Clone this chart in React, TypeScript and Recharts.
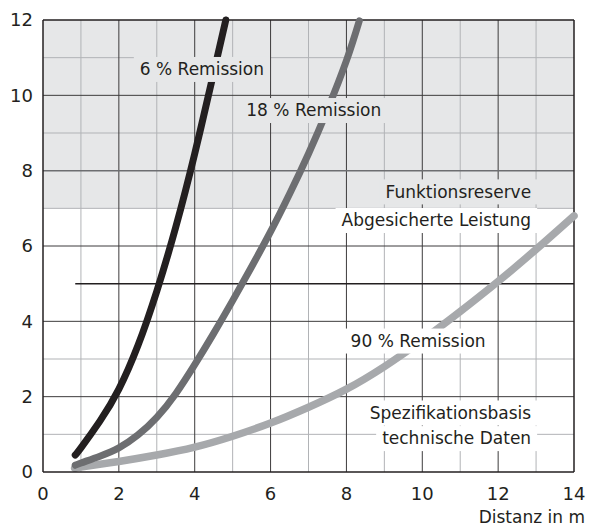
import React from 'react'
import { ComposedChart, Line, XAxis, YAxis, ReferenceArea, ReferenceLine, ReferenceDot } from 'recharts'

const xTicks = [0, 2, 4, 6, 8, 10, 12, 14]
const yTicks = [0, 2, 4, 6, 8, 10, 12]
const xMajor = [2, 4, 6, 8, 10, 12]
const xMinor = [1, 3, 5, 7, 9, 11, 13]
const yMajor = [2, 4, 6, 8, 10]
const yMinor = [1, 3, 7, 9, 11]

// Remission curves (x = Distanz in m)
const rem6 = [
  { x: 0.85, y: 0.45 }, { x: 1, y: 0.64 }, { x: 1.5, y: 1.35 }, { x: 2, y: 2.2 },
  { x: 2.5, y: 3.35 }, { x: 3, y: 4.8 }, { x: 3.5, y: 6.5 }, { x: 4, y: 8.45 },
  { x: 4.5, y: 10.6 }, { x: 4.82, y: 12 },
]
const rem18 = [
  { x: 0.85, y: 0.18 }, { x: 1, y: 0.24 }, { x: 1.5, y: 0.42 }, { x: 2, y: 0.64 },
  { x: 2.5, y: 0.98 }, { x: 3, y: 1.45 }, { x: 3.5, y: 2.08 }, { x: 4, y: 2.85 },
  { x: 4.5, y: 3.68 }, { x: 5, y: 4.55 }, { x: 5.5, y: 5.45 }, { x: 6, y: 6.38 },
  { x: 6.5, y: 7.38 }, { x: 7, y: 8.45 }, { x: 7.5, y: 9.62 }, { x: 8, y: 10.92 },
  { x: 8.34, y: 11.98 },
]
const rem90 = [
  { x: 0.85, y: 0.1 }, { x: 1, y: 0.13 }, { x: 2, y: 0.28 }, { x: 3, y: 0.45 },
  { x: 4, y: 0.66 }, { x: 5, y: 0.95 }, { x: 6, y: 1.3 }, { x: 7, y: 1.72 },
  { x: 8, y: 2.2 }, { x: 9, y: 2.8 }, { x: 10, y: 3.5 }, { x: 11, y: 4.26 },
  { x: 12, y: 5.06 }, { x: 13, y: 5.91 }, { x: 14, y: 6.8 },
]

const FONT = '"DejaVu Sans", sans-serif'
const INK = '#231f20'
const BAND = '#e6e7e8'

let ctx: CanvasRenderingContext2D | null = null
function textWidth(text: string, size: number) {
  if (!ctx) ctx = document.createElement('canvas').getContext('2d')
  if (!ctx) return text.length * size * 0.55
  ctx.font = `${size}px "DejaVu Sans"`
  return ctx.measureText(text).width
}

const boxLabel = (text: string, anchor: 'middle' | 'end', bg: string) => (props: any) => {
  const { cx, cy } = props
  const w = textWidth(text, 17)
  const left = anchor === 'end' ? cx - w : cx - w / 2
  return (
    <g>
      <rect x={left - 6} y={cy - 12} width={w + 12} height={25} fill={bg} />
      <text x={cx} y={cy + 6.2} textAnchor={anchor} fontSize={17} fontFamily={FONT} fill={INK}>
        {text}
      </text>
    </g>
  )
}

export default function App() {
  return (
    <div style={{ position: 'absolute', left: 0, top: 0, width: 590, height: 529, background: '#fff' }}>
      <ComposedChart width={590} height={529} margin={{ top: 20, right: 16, bottom: 0, left: 0 }}>
        <XAxis
          type="number"
          dataKey="x"
          domain={[0, 14]}
          ticks={xTicks}
          tickLine={false}
          axisLine={{ stroke: INK, strokeWidth: 1.5 }}
          tick={{ fill: INK, fontSize: 18, fontFamily: FONT }}
          tickMargin={9}
          height={57}
          label={(p: any) => {
            const vb = p.viewBox
            return (
              <text x={vb.x + vb.width + 11} y={vb.y + 51} textAnchor="end" fontSize={17} fontFamily={FONT} fill={INK}>
                Distanz in m
              </text>
            )
          }}
        />
        <YAxis
          type="number"
          dataKey="y"
          domain={[0, 12]}
          ticks={yTicks}
          tickLine={false}
          axisLine={{ stroke: INK, strokeWidth: 1.5 }}
          tick={{ fill: INK, fontSize: 18, fontFamily: FONT }}
          tickMargin={4}
          width={43}
        />
        <ReferenceArea x1={0} x2={14} y1={7} y2={12} fill={BAND} fillOpacity={1} stroke="none" />
        {xMinor.map((v) => (
          <ReferenceLine key={'xm' + v} x={v} stroke="#b1b3b6" strokeWidth={1} />
        ))}
        {yMinor.map((v) => (
          <ReferenceLine key={'ym' + v} y={v} stroke="#b1b3b6" strokeWidth={1} />
        ))}
        {xMajor.map((v) => (
          <ReferenceLine key={'xM' + v} x={v} stroke="#3d3b3c" strokeWidth={1} />
        ))}
        {yMajor.map((v) => (
          <ReferenceLine key={'yM' + v} y={v} stroke={v === 8 ? '#6d6e71' : '#3d3b3c'} strokeWidth={v === 8 ? 1.5 : 1} />
        ))}
        <ReferenceLine x={14} stroke={INK} strokeWidth={1.5} />
        <ReferenceLine y={12} stroke={INK} strokeWidth={1.5} />
        <ReferenceLine segment={[{ x: 0.85, y: 5 }, { x: 14, y: 5 }]} stroke={INK} strokeWidth={1.5} />

        <Line data={rem90} dataKey="y" type="natural" stroke="#a7a9ac" strokeWidth={7.5} strokeLinecap="round" dot={false} isAnimationActive={false} />
        <Line data={rem18} dataKey="y" type="natural" stroke="#6d6e71" strokeWidth={7} strokeLinecap="round" dot={false} isAnimationActive={false} />
        <Line data={rem6} dataKey="y" type="natural" stroke={INK} strokeWidth={7} strokeLinecap="round" dot={false} isAnimationActive={false} />

        <ReferenceDot x={4.19} y={10.7} r={0} shape={boxLabel('6 % Remission', 'middle', BAND)} />
        <ReferenceDot x={7.14} y={9.61} r={0} shape={boxLabel('18 % Remission', 'middle', BAND)} />
        <ReferenceDot x={12.87} y={7.45} r={0} shape={boxLabel('Funktionsreserve', 'end', BAND)} />
        <ReferenceDot x={12.87} y={6.69} r={0} shape={boxLabel('Abgesicherte Leistung', 'end', '#fff')} />
        <ReferenceDot x={9.89} y={3.49} r={0} shape={boxLabel('90 % Remission', 'middle', '#fff')} />
        <ReferenceDot x={12.87} y={1.58} r={0} shape={boxLabel('Spezifikationsbasis', 'end', '#fff')} />
        <ReferenceDot x={12.87} y={0.9} r={0} shape={boxLabel('technische Daten', 'end', '#fff')} />
      </ComposedChart>
    </div>
  )
}
